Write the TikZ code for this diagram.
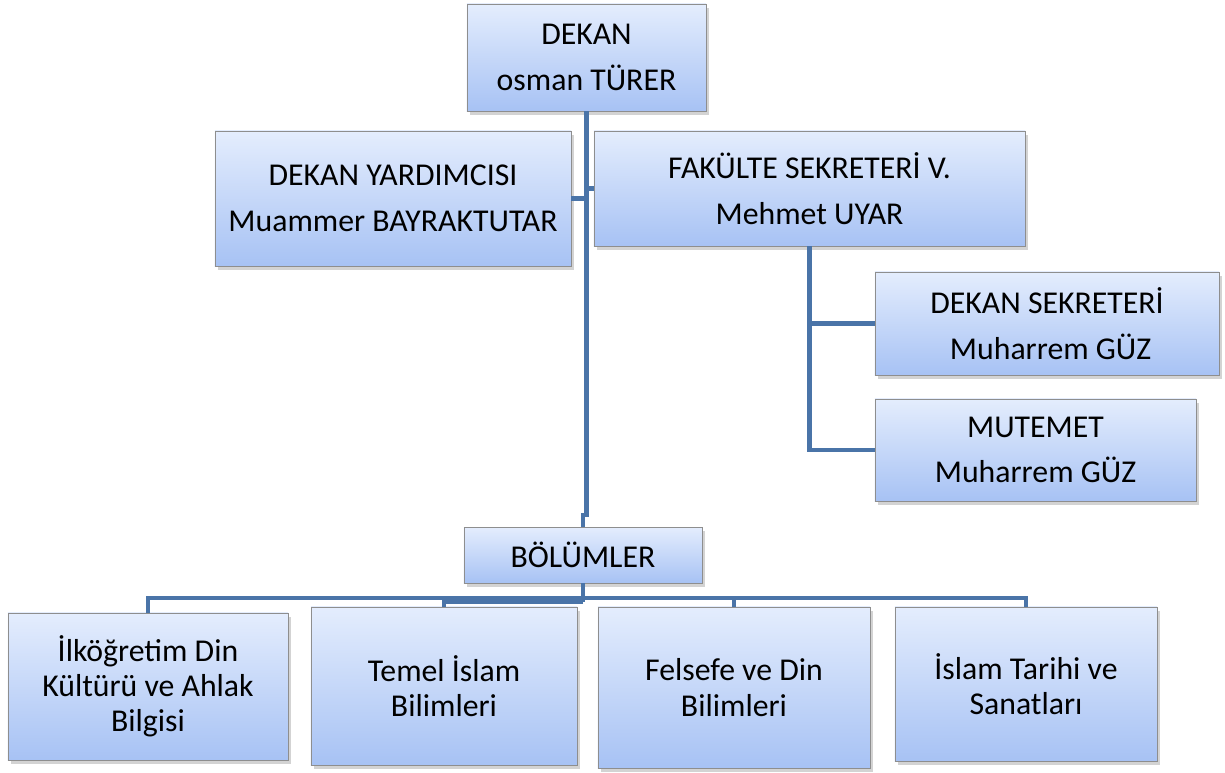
\documentclass[tikz,border=0pt]{standalone}
\usepackage{fontspec}
\setmainfont{Carlito}
\usepackage{xcolor}
\usepackage{tikz}
\usetikzlibrary{positioning, shadows, calc}

\definecolor{boxtop}{HTML}{E4EDFD}
\definecolor{boxbottom}{HTML}{A7C2F4}
\definecolor{linkblue}{HTML}{4A74A8}
\definecolor{boxline}{HTML}{8E8E8E}

\begin{document}
\begin{tikzpicture}[
    x=0.025cm, y=-0.025cm,
    box/.style={rectangle, draw=boxline, line width=0.6pt, top color=boxtop, bottom color=boxbottom,
        drop shadow={shadow xshift=2pt, shadow yshift=-2.5pt, opacity=0.35},
        align=center, inner sep=2pt, font=\fontsize{22.6}{32.5}\selectfont},
    unit/.style={box, font=\fontsize{22.6}{25}\selectfont},
    link/.style={draw=linkblue, line width=3.4pt}
]
\useasboundingbox (0,0) rectangle (1225,772);

% Head of faculty
\node[box, minimum width=5.975cm, minimum height=2.675cm] (dekan) at (586.5,57.5) {DEKAN\\osman TÜRER};

% Second row
\node[box, minimum width=8.9cm, minimum height=3.375cm] (yard) at (393,198.5) {DEKAN YARDIMCISI\\Muammer BAYRAKTUTAR};
\node[box, minimum width=10.775cm, minimum height=2.875cm] (sekr) at (809.5,188.5) {FAKÜLTE SEKRETERİ V.\\Mehmet UYAR};

% Under the secretary
\node[box, minimum width=8.6cm, minimum height=2.575cm] (dsekr) at (1047,323.5) {DEKAN SEKRETERİ\\\ Muharrem GÜZ};
\node[box, minimum width=8.025cm, minimum height=2.55cm] (mutemet) at (1035.5,450) {MUTEMET\\Muharrem GÜZ};

% Departments
\node[box, minimum width=5.95cm, minimum height=1.4cm] (bolum) at (583,555) {BÖLÜMLER};
\node[unit, minimum width=7cm, minimum height=3.675cm] (b1) at (148,686.5) {İlköğretim Din\\Kültürü ve Ahlak\\Bilgisi};
\node[unit, minimum width=6.65cm, minimum height=3.95cm] (b2) at (444,686) {Temel İslam\\Bilimleri};
\node[unit, minimum width=6.8cm, minimum height=4.025cm] (b3) at (734,687.5) {Felsefe ve Din\\Bilimleri};
\node[unit, minimum width=6.55cm, minimum height=3.85cm] (b4) at (1026,684) {İslam Tarihi ve\\Sanatları};

% Connectors
\coordinate (jog) at (dekan.south |- 0,515);
\coordinate (bus) at (bolum.south |- 0,598);
\coordinate (bus2) at (bolum.south |- 0,602);
\draw[link] (dekan.south) -- (jog) -- ++(-3.5,0) -- (bolum.north);
\draw[link] (yard.east) -- (yard.east -| dekan.south);
\draw[link] (sekr.west -| dekan.south) -- (sekr.west);
\draw[link] (sekr.south) |- (dsekr.west);
\draw[link] (sekr.south) |- (mutemet.west);
\draw[link] (bolum.south) -- (bus2);
\draw[link] (bus) -| (b1.north);
\draw[link] (bus2) -| (b2.north);
\draw[link] (bus) -| (b3.north);
\draw[link] (bus) -| (b4.north);

\end{tikzpicture}
\end{document}
